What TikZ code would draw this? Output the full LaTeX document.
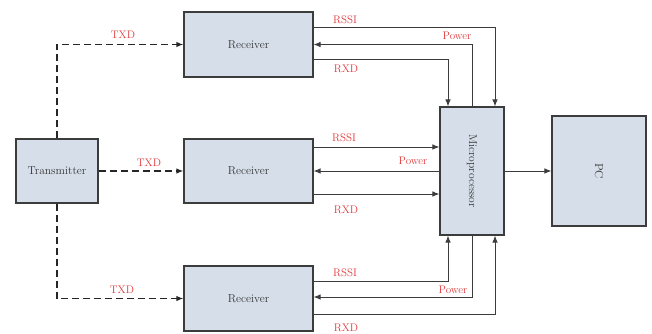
\documentclass[tikz,border=0pt]{standalone}
\usetikzlibrary{arrows.meta}
\definecolor{boxFill}{HTML}{D5DEE9}
\definecolor{boxLine}{HTML}{3C3C3C}
\definecolor{sigRed}{HTML}{E0393B}
\begin{document}
\begin{tikzpicture}[
        x=1pt, y=-1pt,
        blockNode/.style={rectangle, draw=boxLine, fill=boxFill, line width=1.1pt, inner sep=0pt,
            text=boxLine!90!black, font=\fontsize{11.5}{13}\selectfont},
        sigText/.style={text=sigRed, inner sep=0pt, font=\fontsize{11}{13}\selectfont},
        sigLine/.style={draw=boxLine, line width=0.9pt, -{Latex[length=7pt,width=5.5pt]}},
        txLine/.style={sigLine, draw=black!85, line width=1.6pt, dash pattern=on 7pt off 4pt}
    ]
        \useasboundingbox (0,0) rectangle (652,333);

        % Blocks
        \node[blockNode, minimum width=82pt, minimum height=64pt] (tx) at (57,171) {Transmitter};
        \node[blockNode, minimum width=129pt, minimum height=65pt] (r1) at (248.5,44.5) {Receiver};
        \node[blockNode, minimum width=129pt, minimum height=64pt] (r2) at (248.5,171) {Receiver};
        \node[blockNode, minimum width=129pt, minimum height=65pt] (r3) at (248.5,298.5) {Receiver};
        \node[blockNode, minimum width=64pt, minimum height=128pt] (mp) at (472,171) {\rotatebox{-90}{Microprocessor}};
        \node[blockNode, minimum width=94pt, minimum height=110pt] (pc) at (599,171) {\rotatebox{-90}{PC}};

        % Transmitter to receivers
        \draw[txLine] (tx.north) |- (r1.west);
        \draw[txLine] (tx.east) -- (r2.west);
        \draw[txLine] (tx.south) |- (r3.west);

        % Upper receiver
        \draw[sigLine] ([yshift=17.5pt]r1.east) -| ([xshift=23pt]mp.north);
        \draw[sigLine] (mp.north) |- (r1.east);
        \draw[sigLine] ([yshift=-15pt]r1.east) -| ([xshift=-24pt]mp.north);

        % Middle receiver
        \draw[sigLine] ([yshift=24pt]r2.east) -- ([yshift=24pt]mp.west);
        \draw[sigLine] (mp.west) -- (r2.east);
        \draw[sigLine] ([yshift=-23pt]r2.east) -- ([yshift=-23pt]mp.west);

        % Lower receiver
        \draw[sigLine] ([yshift=17.5pt]r3.east) -| ([xshift=-24pt]mp.south);
        \draw[sigLine] (mp.south) |- ([yshift=1.5pt]r3.east);
        \draw[sigLine] ([yshift=-15.5pt]r3.east) -| ([xshift=23pt]mp.south);

        % Microprocessor to PC
        \draw[sigLine] (mp.east) -- (pc.west);

        % Signal names
        \node[sigText] (txd1) at (123,35) {TXD};
        \node[sigText] (txd2) at (149,163) {TXD};
        \node[sigText] (txd3) at (122,290) {TXD};
        \node[sigText] (rssi1) at (345,20) {RSSI};
        \node[sigText] (pow1) at (457,36) {Power};
        \node[sigText] (rxd1) at (346,69) {RXD};
        \node[sigText] (rssi2) at (344,138) {RSSI};
        \node[sigText] (pow2) at (413,161) {Power};
        \node[sigText] (rxd2) at (346,210) {RXD};
        \node[sigText] (rssi3) at (345,273) {RSSI};
        \node[sigText] (pow3) at (453,290) {Power};
        \node[sigText] (rxd3) at (346,328) {RXD};
    \end{tikzpicture}
\end{document}
